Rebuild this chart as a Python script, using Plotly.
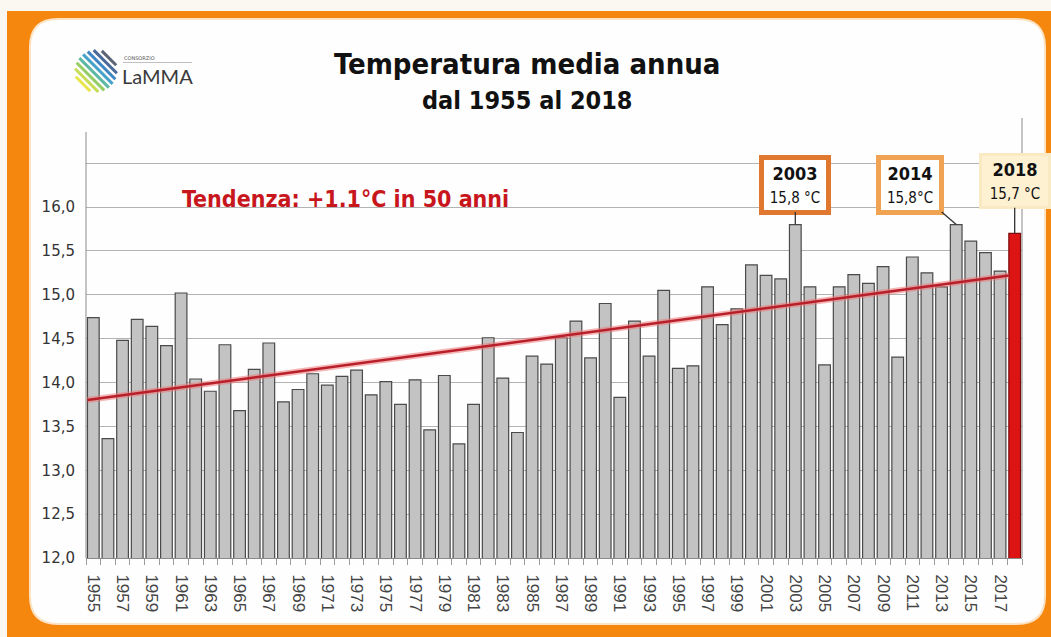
import math
import plotly.graph_objects as go

# ---- data -------------------------------------------------------------
years = list(range(1955, 2019))
temps = [
    14.74, 13.36, 14.48, 14.72, 14.64, 14.42, 15.02, 14.04, 13.90, 14.43,  # 1955-1964
    13.68, 14.15, 14.45, 13.78, 13.92, 14.10, 13.97, 14.07, 14.14, 13.86,  # 1965-1974
    14.01, 13.75, 14.03, 13.46, 14.08, 13.30, 13.75, 14.51, 14.05, 13.43,  # 1975-1984
    14.30, 14.21, 14.51, 14.70, 14.28, 14.90, 13.83, 14.70, 14.30, 15.05,  # 1985-1994
    14.16, 14.19, 15.09, 14.66, 14.84, 15.34, 15.22, 15.18, 15.80, 15.09,  # 1995-2004
    14.20, 15.09, 15.23, 15.13, 15.32, 14.29, 15.43, 15.25, 15.09, 15.80,  # 2005-2014
    15.61, 15.48, 15.27, 15.70,                                            # 2015-2018
]
trend_years = [1954.6, 2017.6]
trend_temps = [13.80, 15.22]

highlight_years = [2003, 2014, 2018]
highlight_units = [" °C", "°C", " °C"]

y_ticks = [12.0, 12.5, 13.0, 13.5, 14.0, 14.5, 15.0, 15.5, 16.0, 16.5]
y_labels = ["12,0", "12,5", "13,0", "13,5", "14,0", "14,5", "15,0", "15,5", "16,0", ""]
x_ticks = list(range(1955, 2018, 2))

# ---- page geometry (pixels) -------------------------------------------
W, H = 1051, 637
L, R, T, B = 86, 29, 126, 79
PW, PH = W - L - R, H - T - B


def px(x):
    return (x - L) / PW


def py(y):
    return (H - B - y) / PH


def rounded_rect(x0, y0, x1, y1, r):
    pts = [
        f"M {px(x0 + r)},{py(y0)}",
        f"L {px(x1 - r)},{py(y0)}",
        f"Q {px(x1)},{py(y0)} {px(x1)},{py(y0 + r)}",
        f"L {px(x1)},{py(y1 - r)}",
        f"Q {px(x1)},{py(y1)} {px(x1 - r)},{py(y1)}",
        f"L {px(x0 + r)},{py(y1)}",
        f"Q {px(x0)},{py(y1)} {px(x0)},{py(y1 - r)}",
        f"L {px(x0)},{py(y0 + r)}",
        f"Q {px(x0)},{py(y0)} {px(x0 + r)},{py(y0)}",
        "Z",
    ]
    return " ".join(pts)


ORANGE = "#f5870f"
COND = "DejaVu Sans Condensed, DejaVu Sans, sans-serif"

fig = go.Figure()

# bars
bar_fill = ["#c3c3c3"] * (len(years) - 1) + ["#dc1414"]
bar_edge = ["#4a4a4a"] * (len(years) - 1) + ["#7a0d0d"]
fig.add_trace(go.Bar(
    x=years, y=temps,
    marker=dict(color=bar_fill, line=dict(color=bar_edge, width=1.2)),
    width=0.8, hoverinfo="x+y", showlegend=False,
))

# trend line (soft halo + core)
fig.add_trace(go.Scatter(
    x=trend_years, y=trend_temps, mode="lines",
    line=dict(color="rgba(236,120,120,0.55)", width=6),
    hoverinfo="skip", showlegend=False,
))
fig.add_trace(go.Scatter(
    x=trend_years, y=trend_temps, mode="lines",
    line=dict(color="#b81f2a", width=2.5),
    hoverinfo="skip", showlegend=False,
))

shapes = []
# orange frame and white rounded panel
shapes.append(dict(type="rect", xref="paper", yref="paper", layer="below",
                   x0=px(7), x1=px(W + 5), y0=py(11), y1=py(H + 5),
                   fillcolor=ORANGE, line=dict(width=0)))
shapes.append(dict(type="path", xref="paper", yref="paper", layer="below",
                   path=rounded_rect(30, 19, 1045, 624, 28),
                   fillcolor="#fefefe", line=dict(color="#fbe3c4", width=2)))
# side borders of the plot
shapes.append(dict(type="line", xref="paper", yref="paper",
                   x0=px(86), x1=px(86), y0=py(132), y1=py(558),
                   line=dict(color="#8a8a8a", width=1)))
shapes.append(dict(type="line", xref="paper", yref="paper",
                   x0=px(1022), x1=px(1022), y0=py(118), y1=py(558),
                   line=dict(color="#8a8a8a", width=1)))

# logo: striped disc
cx, cy, rad = 96, 71, 21
stripe_cols = ["#e8e64a", "#c6dd55", "#95cc66", "#5fb8a4", "#48a3c8",
               "#3f86c4", "#4a6a9a", "#5a6474"]
n = len(stripe_cols)
for i, col in enumerate(stripe_cols):
    d = -rad + (i + 0.5) * (2 * rad / n)
    half = math.sqrt(max(rad * rad - d * d, 0))
    # offset towards the upper-right, stripe runs down-right
    nx, ny = d / math.sqrt(2), -d / math.sqrt(2)
    ux, uy = 1 / math.sqrt(2), 1 / math.sqrt(2)
    shapes.append(dict(type="line", xref="paper", yref="paper",
                       x0=px(cx + nx - half * ux), y0=py(cy + ny - half * uy),
                       x1=px(cx + nx + half * ux), y1=py(cy + ny + half * uy),
                       line=dict(color=col, width=3)))
shapes.append(dict(type="line", xref="paper", yref="paper",
                   x0=px(123), x1=px(192), y0=py(62.5), y1=py(62.5),
                   line=dict(color="#b0b0b0", width=0.8)))

annotations = [
    dict(xref="paper", yref="paper", x=px(527), y=py(64), showarrow=False,
         xanchor="center", yanchor="middle",
         text="<b>Temperatura media annua</b>",
         font=dict(family=COND, size=29, color="#111")),
    dict(xref="paper", yref="paper", x=px(527), y=py(100), showarrow=False,
         xanchor="center", yanchor="middle",
         text="<b>dal 1955 al 2018</b>",
         font=dict(family=COND, size=25, color="#111")),
    dict(xref="paper", yref="paper", x=px(180), y=py(199), xanchor="left",
         yanchor="middle", showarrow=False,
         text="<b>Tendenza: +1.1°C in 50 anni</b>",
         font=dict(family=COND, size=23, color="#c8161d")),
    dict(xref="paper", yref="paper", x=px(122), y=py(58), xanchor="left",
         yanchor="middle", showarrow=False, text="CONSORZIO",
         font=dict(family="DejaVu Sans", size=5, color="#555")),
    dict(xref="paper", yref="paper", x=px(120), y=py(76), xanchor="left",
         yanchor="middle", showarrow=False, text="LaMMA",
         font=dict(family="Lato, sans-serif", size=20, color="#3a3a3a")),
]

# highlighted years
box_style = {
    2003: dict(bgcolor="#ffffff", bordercolor="#e0782f", borderwidth=5,
               width=56, ax=0, ay=-40),
    2014: dict(bgcolor="#ffffff", bordercolor="#f0a352", borderwidth=5,
               width=52, ax=-46, ay=-40),
    2018: dict(bgcolor="#fdf1d2", bordercolor="#faeac4", borderwidth=3,
               width=60, ax=0, ay=-52),
}
for yr, unit in zip(highlight_years, highlight_units):
    val = temps[years.index(yr)]
    st = box_style[yr]
    label = f"{val:.1f}".replace(".", ",") + unit
    annotations.append(dict(
        x=yr, y=val, xref="x", yref="y",
        text=f"<b>{yr}</b><br><span style='font-size:15px'>{label}</span>",
        showarrow=True, arrowhead=0, arrowwidth=1.3, arrowcolor="#333",
        ax=st["ax"], ay=st["ay"], standoff=0,
        bgcolor=st["bgcolor"], bordercolor=st["bordercolor"],
        borderwidth=st["borderwidth"], borderpad=3, width=st["width"],
        height=44, align="center",
        font=dict(family=COND, size=18, color="#111"),
    ))

fig.update_layout(
    width=W, height=H, autosize=False,
    margin=dict(l=L, r=R, t=T, b=B, pad=0),
    paper_bgcolor="#fbf8f1", plot_bgcolor="rgba(0,0,0,0)",
    showlegend=False,
    shapes=shapes, annotations=annotations,
    xaxis=dict(
        range=[1954.5, 2018.5], tickvals=x_ticks, tickangle=90,
        ticks="", showgrid=False, zeroline=False,
        showline=True, linecolor="#8a8a8a", linewidth=1,
        ticklabelstandoff=12,
        tickfont=dict(family="Liberation Sans, Arial, sans-serif", size=17, color="#444"),
        minor=dict(tickvals=[1954.5 + i for i in range(65)], ticks="outside",
                   ticklen=6, tickcolor="#9a9a9a", tickwidth=1, showgrid=False),
    ),
    yaxis=dict(
        range=[12.0, 12.0 + PH / 87.75], tickvals=y_ticks, ticktext=y_labels,
        ticks="", showgrid=True, gridcolor="#b3b3b3", gridwidth=1,
        zeroline=False, showline=False, ticklabelstandoff=10,
        tickfont=dict(family="DejaVu Sans, sans-serif", size=15, color="#333"),
    ),
)

fig.write_html("out.html")
